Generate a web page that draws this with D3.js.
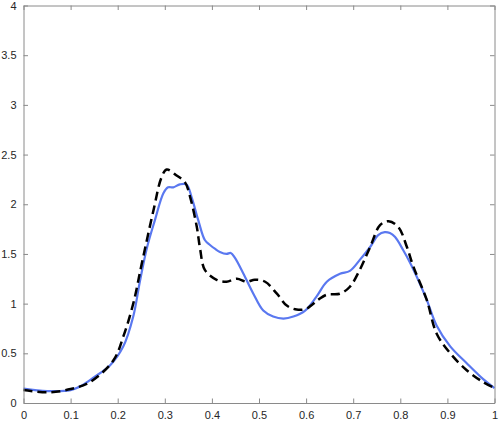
<!DOCTYPE html>
<html>
<head>
<meta charset="utf-8">
<script src="https://cdn.jsdelivr.net/npm/d3@7"></script>
<style>
  html, body { margin: 0; padding: 0; background: #fff; }
  svg { display: block; }
</style>
</head>
<body>
<svg id="chart" width="499" height="421"></svg>
<script>
// ---- data ----
const blueX = [0, 0.05, 0.1, 0.125, 0.15, 0.184, 0.212, 0.233, 0.247, 0.262, 0.279, 0.297, 0.307, 0.318, 0.332, 0.346, 0.357, 0.371, 0.385, 0.396, 0.407, 0.417, 0.431, 0.44, 0.449, 0.467, 0.488, 0.509, 0.53, 0.552, 0.573, 0.598, 0.622, 0.644, 0.672, 0.693, 0.714, 0.736, 0.753, 0.767, 0.778, 0.789, 0.806, 0.821, 0.835, 0.856, 0.877, 0.906, 0.941, 0.976, 1.0];
const blueY = [0.145, 0.12, 0.13, 0.18, 0.26, 0.38, 0.57, 0.87, 1.22, 1.56, 1.84, 2.11, 2.17, 2.17, 2.20, 2.20, 2.07, 1.84, 1.64, 1.59, 1.55, 1.52, 1.50, 1.51, 1.46, 1.30, 1.10, 0.93, 0.87, 0.85, 0.87, 0.93, 1.07, 1.22, 1.30, 1.33, 1.44, 1.57, 1.69, 1.72, 1.71, 1.67, 1.54, 1.41, 1.27, 1.04, 0.78, 0.57, 0.40, 0.24, 0.15];

const blackX = [0, 0.05, 0.1, 0.141, 0.191, 0.212, 0.233, 0.251, 0.276, 0.293, 0.304, 0.325, 0.343, 0.354, 0.368, 0.375, 0.385, 0.41, 0.431, 0.453, 0.474, 0.491, 0.513, 0.538, 0.559, 0.58, 0.601, 0.626, 0.644, 0.672, 0.693, 0.714, 0.736, 0.757, 0.775, 0.796, 0.814, 0.828, 0.856, 0.877, 0.906, 0.941, 0.976, 1.0];
const blackY = [0.13, 0.107, 0.14, 0.21, 0.43, 0.67, 1.00, 1.40, 1.94, 2.27, 2.35, 2.29, 2.22, 2.07, 1.77, 1.55, 1.34, 1.24, 1.22, 1.25, 1.22, 1.24, 1.22, 1.10, 0.98, 0.94, 0.95, 1.04, 1.09, 1.10, 1.17, 1.34, 1.57, 1.79, 1.83, 1.77, 1.57, 1.37, 1.04, 0.70, 0.50, 0.33, 0.21, 0.15];

const xTicks = [0, 0.1, 0.2, 0.3, 0.4, 0.5, 0.6, 0.7, 0.8, 0.9, 1];
const yTicks = [0, 0.5, 1, 1.5, 2, 2.5, 3, 3.5, 4];

// ---- layout ----
const padL = 23.5, padR = 494.5, padT = 5.5, padB = 403;
const svg = d3.select("#chart");
const x = d3.scaleLinear().domain([0, 1]).range([padL, padR]);
const y = d3.scaleLinear().domain([0, 4]).range([padB, padT]);

const axisColor = "#8a8a8a";
const textColor = "#262626";
const tickLen = 4.5;

// lines
const line = d3.line().x(d => x(d[0])).y(d => y(d[1])).curve(d3.curveCatmullRom.alpha(0.5));

svg.append("path")
  .datum(blueX.map((v, i) => [v, blueY[i]]))
  .attr("d", line)
  .attr("fill", "none")
  .attr("stroke", "#5a78f0")
  .attr("stroke-width", 2.2)
  .attr("stroke-linejoin", "round");

svg.append("path")
  .datum(blackX.map((v, i) => [v, blackY[i]]))
  .attr("d", line)
  .attr("fill", "none")
  .attr("stroke", "#000")
  .attr("stroke-width", 2.5)
  .attr("stroke-dasharray", "9,5");

// axes (box with mirrored inward ticks)
const bottomAxis = d3.axisBottom(x).tickValues(xTicks).tickSizeInner(-tickLen).tickSizeOuter(0).tickPadding(8)
  .tickFormat(d => d3.format("")(d));
const topAxis = d3.axisTop(x).tickValues(xTicks).tickSizeInner(-tickLen).tickSizeOuter(0).tickFormat("");
const leftAxis = d3.axisLeft(y).tickValues(yTicks).tickSizeInner(-tickLen).tickSizeOuter(0).tickPadding(7)
  .tickFormat(d => d3.format("")(d));
const rightAxis = d3.axisRight(y).tickValues(yTicks).tickSizeInner(-tickLen).tickSizeOuter(0).tickFormat("");

function style(g) {
  g.select(".domain").attr("stroke", axisColor).attr("stroke-width", 1);
  g.selectAll(".tick line").attr("stroke", axisColor);
  g.selectAll(".tick text").attr("fill", textColor)
    .style("font-family", "'Liberation Sans', Arial, Helvetica, sans-serif").style("font-size", "11px");
}

svg.append("g").attr("transform", `translate(0,${padB})`).call(bottomAxis).call(style);
svg.append("g").attr("transform", `translate(0,${padT})`).call(topAxis).call(style);
svg.append("g").attr("transform", `translate(${padL},0)`).call(leftAxis).call(style);
svg.append("g").attr("transform", `translate(${padR},0)`).call(rightAxis).call(style);
</script>
</body>
</html>
